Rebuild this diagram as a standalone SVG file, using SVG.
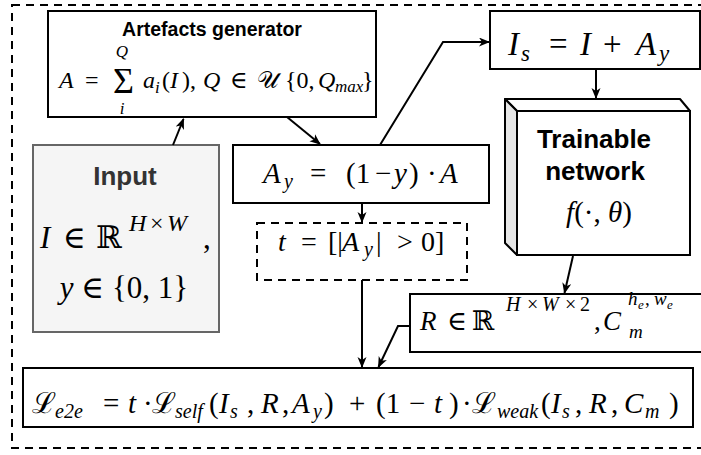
<svg xmlns="http://www.w3.org/2000/svg" width="701" height="455" viewBox="0 0 701 455">
<style>
.box{fill:#fff;stroke:#000;stroke-width:2}
.dash{fill:none;stroke:#000;stroke-width:2;stroke-dasharray:8 6}
.m{font-family:"Liberation Serif","DejaVu Serif",serif;fill:#000}
.i{font-style:italic}
.b{font-family:"Liberation Sans",Arial,sans-serif;font-weight:bold}
.c{fill:none;stroke:#000;stroke-width:2}
</style>
<defs>
<marker id="ah" markerUnits="userSpaceOnUse" markerWidth="12" markerHeight="10" refX="10" refY="4.5" orient="auto">
<path d="M0,0 L11,4.5 L0,9 L3,4.5 z" fill="#000"/>
</marker>
</defs>
<rect class="dash" x="12" y="5" width="720" height="443"/>
<g id="artefacts">
<rect class="box" x="48" y="11" width="328" height="106"/>
<text class="b" x="212" y="36" font-size="19.5" text-anchor="middle">Artefacts generator</text>
<text class="m" y="88" font-size="24"><tspan class="i" x="59">A</tspan><tspan x="85">=</tspan><tspan class="i" x="143">a</tspan><tspan x="162">(</tspan><tspan class="i" x="170">I</tspan><tspan x="182">),</tspan><tspan class="i" x="203">Q</tspan><tspan x="230">∈</tspan><tspan x="257">𝒰</tspan><tspan x="285">{0,</tspan><tspan class="i" x="318">Q</tspan><tspan x="362">}</tspan></text>
<text class="m i" font-size="17"><tspan x="155" y="93">i</tspan><tspan x="335" y="92">max</tspan></text>
<text class="m" x="123.5" y="93" font-size="36" text-anchor="middle">Σ</text>
<text class="m i" x="122" y="57" font-size="17" text-anchor="middle">Q</text>
<text class="m i" x="122" y="114" font-size="17" text-anchor="middle">i</text>
</g>
<g id="input">
<rect x="33" y="145" width="186" height="187" fill="#f5f5f5" stroke="#666" stroke-width="2"/>
<text class="b" x="125" y="185" font-size="26" text-anchor="middle" fill="#333">Input</text>
<text class="m" y="248" font-size="31"><tspan class="i" x="40">I</tspan><tspan x="63">∈</tspan><tspan x="96">ℝ</tspan><tspan x="203">,</tspan></text>
<text class="m" y="231" font-size="24"><tspan class="i" x="129">H</tspan><tspan x="150">×</tspan><tspan class="i" x="167">W</tspan></text>
<text class="m" x="124" y="298" font-size="31" text-anchor="middle"><tspan class="i">y</tspan> ∈ {0, 1}</text>
</g>
<g id="ay">
<rect class="box" x="233" y="145" width="256" height="58"/>
<text class="m" y="183" font-size="29"><tspan class="i" x="263">A</tspan><tspan x="310">=</tspan><tspan x="346">(1</tspan><tspan x="375">−</tspan><tspan class="i" x="394">y</tspan><tspan x="409">)</tspan><tspan x="427">·</tspan><tspan class="i" x="440">A</tspan></text>
<text class="m i" x="284" y="188" font-size="20">y</text>
</g>
<g id="t">
<rect class="dash" x="257" y="223" width="210" height="57" fill="#fff"/>
<text class="m" y="251" font-size="28"><tspan class="i" x="278">t</tspan><tspan x="301">=</tspan><tspan x="328">[|</tspan><tspan class="i" x="342">A</tspan><tspan x="376">|</tspan><tspan x="397">&gt;</tspan><tspan x="421">0]</tspan></text>
<text class="m i" x="364" y="256" font-size="20">y</text>
</g>
<g id="is">
<rect class="box" x="490" y="11" width="210" height="58"/>
<text class="m" y="55" font-size="33"><tspan class="i" x="508">I</tspan><tspan x="549">=</tspan><tspan class="i" x="580">I</tspan><tspan x="603">+</tspan><tspan class="i" x="636">A</tspan></text>
<text class="m i" font-size="23"><tspan x="521" y="61">s</tspan><tspan x="659" y="61">y</tspan></text>
</g>
<g id="network">
<polygon points="505,99 680,99 690,111 517,111" fill="#fff" stroke="#000" stroke-width="2" stroke-linejoin="round"/>
<polygon points="505,99 517,111 517,255 505,243" fill="#e6e6e6" stroke="#000" stroke-width="2" stroke-linejoin="round"/>
<rect class="box" x="517" y="111" width="173" height="144"/>
<text class="b" x="594" y="148" font-size="26" text-anchor="middle">Trainable</text>
<text class="b" x="595" y="180" font-size="26" text-anchor="middle">network</text>
<text class="m" x="599" y="222" font-size="29" text-anchor="middle"><tspan class="i">f</tspan>(·, <tspan class="i">θ</tspan>)</text>
</g>
<g id="r">
<rect class="box" x="410" y="294" width="292" height="58"/>
<text class="m" y="330" font-size="27"><tspan class="i" x="420">R</tspan><tspan x="447">∈</tspan><tspan x="472">ℝ</tspan><tspan x="594">,</tspan><tspan class="i" x="603">C</tspan></text>
<text class="m" y="311" font-size="20"><tspan class="i" x="506">H</tspan><tspan x="527">×</tspan><tspan class="i" x="542">W</tspan><tspan x="565">×</tspan><tspan x="580">2</tspan></text>
<text class="m i" x="629" y="338" font-size="19">m</text>
<text class="m" y="305" font-size="19"><tspan class="i" x="628">h</tspan><tspan x="645">,</tspan><tspan class="i" x="654">w</tspan></text>
<text class="m i" y="309" font-size="13"><tspan x="638">e</tspan><tspan x="667">e</tspan></text>
</g>
<g id="loss">
<rect class="box" x="23" y="368" width="670" height="59"/>
<text class="m" y="413" font-size="29"><tspan x="32">ℒ</tspan><tspan x="103">=</tspan><tspan class="i" x="128">t</tspan><tspan x="143">·</tspan><tspan x="152">ℒ</tspan><tspan x="209">(</tspan><tspan class="i" x="219">I</tspan><tspan x="247">,</tspan><tspan class="i" x="261">R</tspan><tspan x="282">,</tspan><tspan class="i" x="292">A</tspan><tspan x="324">)</tspan><tspan x="349">+</tspan><tspan x="376">(1</tspan><tspan x="409">−</tspan><tspan class="i" x="434">t</tspan><tspan x="449">)</tspan><tspan x="462">·</tspan><tspan x="472">ℒ</tspan><tspan x="541">(</tspan><tspan class="i" x="551">I</tspan><tspan x="575">,</tspan><tspan class="i" x="589">R</tspan><tspan x="611">,</tspan><tspan class="i" x="624">C</tspan><tspan x="669">)</tspan></text>
<text class="m i" y="418" font-size="20"><tspan x="55">e2e</tspan><tspan x="175">self</tspan><tspan x="230">s</tspan><tspan x="313">y</tspan><tspan x="497">weak</tspan><tspan x="562">s</tspan><tspan x="645">m</tspan></text>
</g>
<g id="connectors">
<path class="c" d="M173,145 L183.5,119" marker-end="url(#ah)"/>
<path class="c" d="M287,117 L320,144" marker-end="url(#ah)"/>
<path class="c" d="M380,145 L443,42 L489,42" marker-end="url(#ah)"/>
<path class="c" d="M362,203 L362,222" marker-end="url(#ah)"/>
<path class="c" d="M362,280 L362,367" marker-end="url(#ah)"/>
<path class="c" d="M596,69 L596,98" marker-end="url(#ah)"/>
<path class="c" d="M573,256 L564.5,293" marker-end="url(#ah)"/>
<path class="c" d="M410,326 L398,326 L378.5,367" marker-end="url(#ah)"/>
</g>
</svg>
